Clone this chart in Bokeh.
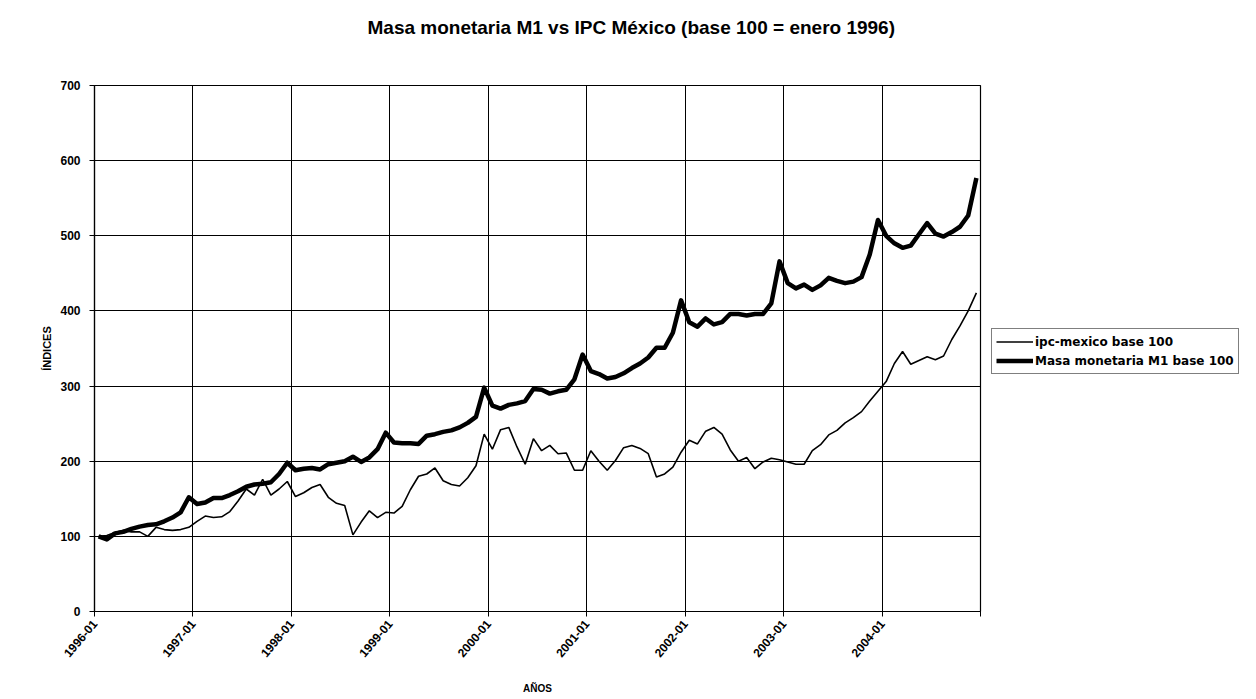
import math
from bokeh.plotting import figure
from bokeh.models import FixedTicker, Legend, LegendItem, Range1d, Title
from bokeh.embed import file_html
from bokeh.resources import INLINE

# ---- data (monthly, 1996-01 .. 2004-12, base 100 = enero 1996) ----
etiquetas_anio = ["1996-01", "1997-01", "1998-01", "1999-01", "2000-01",
                  "2001-01", "2002-01", "2003-01", "2004-01"]

ipc_mexico = [100, 101, 105, 108, 106, 106, 100, 112, 109, 108, 109, 112,
              120, 127, 125, 126, 133, 147, 163, 155, 176, 155, 163, 173,
              153, 158, 165, 169, 152, 144, 141, 102, 119, 134, 125, 132,
              131, 140, 162, 180, 183, 191, 174, 169, 167, 178, 194, 236,
              216, 242, 245, 219, 196, 230, 214, 221, 210, 211, 188, 188,
              214, 200, 188, 201, 218, 221, 217, 210, 179, 183, 192, 212,
              228, 223, 240, 245, 236, 215, 200, 205, 190, 199, 204, 202,
              199, 196, 196, 214, 222, 235, 241, 251, 258, 266, 280, 293,
              306, 330, 346, 329, 334, 339, 335, 340, 362, 380, 400, 424]

masa_m1 = [100, 96, 104, 106, 110, 113, 115, 116, 120, 125, 132, 152,
           143, 145, 151, 151, 155, 160, 166, 169, 170, 172, 183, 198,
           188, 190, 191, 189, 196, 198, 200, 206, 199, 205, 216, 238,
           225, 224, 224, 223, 234, 236, 239, 241, 245, 251, 259, 298,
           274, 270, 275, 277, 280, 296, 295, 290, 293, 295, 309, 342,
           320, 316, 310, 312, 317, 324, 330, 338, 351, 351, 371, 414,
           385, 379, 390, 382, 385, 396, 396, 394, 396, 396, 410, 466,
           437, 430, 435, 428, 434, 444, 440, 437, 439, 445, 475, 521,
           500, 490, 484, 487, 502, 517, 503, 499, 505, 512, 527, 577]

valores_y = [0, 100, 200, 300, 400, 500, 600, 700]

n = len(masa_m1)
x = [i + 0.5 for i in range(n)]          # points at category centres
x_ticks = list(range(0, n + 1, 12))

FONT = "Liberation Sans"

p = figure(frame_width=886, frame_height=526, output_backend="svg", toolbar_location=None,
           x_range=Range1d(0, n), y_range=Range1d(0, 700),
           min_border_left=94, min_border_right=260,
           min_border_top=85, min_border_bottom=88,
           background_fill_color="white", border_fill_color="white")

p.title.text = "Masa monetaria M1 vs IPC México (base 100 = enero 1996)"
p.title.align = "left"
p.title.offset = 273
p.title.standoff = 10
p.title.text_font = FONT
p.title.text_font_style = "bold"
p.title.text_font_size = "19px"
p.title.text_color = "black"

# spacer between the title and the plot area
p.add_layout(Title(text=" ", text_font_size="1px", standoff=40), "above")

p.outline_line_color = "black"
p.outline_line_width = 1.2

# axes
p.xaxis.ticker = FixedTicker(ticks=x_ticks)
overrides = {t: (etiquetas_anio[k] if k < len(etiquetas_anio) else "") for k, t in enumerate(x_ticks)}
p.xaxis.major_label_overrides = overrides
p.xaxis.major_label_orientation = 0.87
p.yaxis.ticker = FixedTicker(ticks=valores_y)

for ax in (p.xaxis[0], p.yaxis[0]):
    ax.axis_line_color = "black"
    ax.axis_line_width = 1.2
    ax.major_tick_line_color = "black"
    ax.major_tick_out = 5
    ax.major_tick_in = 0
    ax.minor_tick_line_color = None
    ax.major_label_text_font = FONT
    ax.major_label_text_font_style = "bold"
    ax.major_label_text_font_size = "12px"
    ax.major_label_text_color = "black"
    ax.axis_label_text_font = FONT
    ax.axis_label_text_font_style = "bold"
    ax.axis_label_text_color = "black"

p.xaxis.axis_label = "AÑOS"
p.xaxis.axis_label_text_font_size = "10px"
p.xaxis.axis_label_standoff = 19
p.yaxis.axis_label = "ÍNDICES"
p.yaxis.axis_label_text_font_size = "11px"
p.yaxis.axis_label_standoff = 4
p.yaxis.major_label_standoff = 9

p.xgrid.ticker = FixedTicker(ticks=x_ticks)
p.ygrid.ticker = FixedTicker(ticks=valores_y)
for g in (p.xgrid[0], p.ygrid[0]):
    g.grid_line_color = "black"
    g.grid_line_width = 1
    g.grid_line_alpha = 1

r_ipc = p.line(x, ipc_mexico, line_color="black", line_width=1.6)
r_m1 = p.line(x, masa_m1, line_color="black", line_width=4.5, line_join="round")

legend = Legend(items=[LegendItem(label="ipc-mexico base 100", renderers=[r_ipc]),
                       LegendItem(label="Masa monetaria M1 base 100", renderers=[r_m1])],
                location=(11, 237),
                label_text_font="DejaVu Sans", label_text_font_style="bold",
                label_text_font_size="12px", label_text_color="black",
                glyph_width=37, glyph_height=17, label_height=17,
                label_standoff=2, spacing=2, padding=4, margin=0,
                border_line_color="black", border_line_width=1.2,
                background_fill_color="white", background_fill_alpha=1)
p.add_layout(legend, "right")

open("out.html", "w").write(file_html(p, INLINE))
